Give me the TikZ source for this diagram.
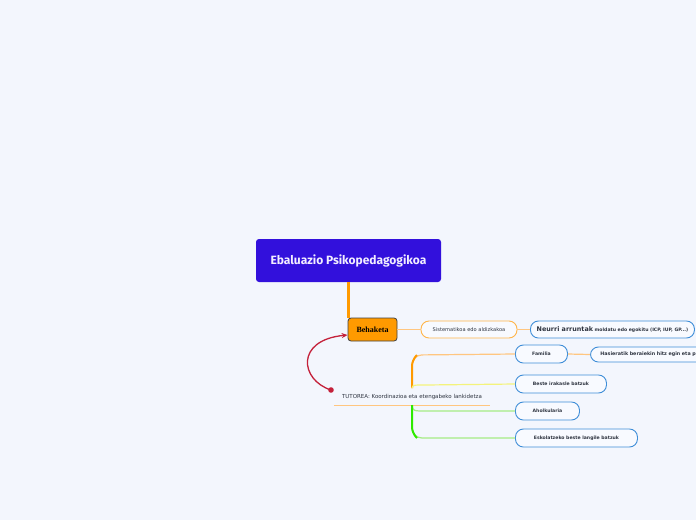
\documentclass[tikz,border=0pt]{standalone}
\usepackage{fontspec}
\setmainfont{DejaVu Sans}
\newfontfamily\titlefont{Fira Sans}
\newfontfamily\behfont{Liberation Serif}
\usetikzlibrary{arrows.meta}
\definecolor{bg}{HTML}{F3F6FD}
\definecolor{mainfill}{HTML}{3210DC}
\definecolor{maintext}{HTML}{F2EEFF}
\definecolor{strongorange}{HTML}{FF9A00}
\definecolor{lightorange}{HTML}{FFC680}
\definecolor{pillorange}{HTML}{FFB54A}
\definecolor{pillblue}{HTML}{3F8ED8}
\definecolor{pillfill}{HTML}{F8FAFF}
\definecolor{lightyellow}{HTML}{F3F37C}
\definecolor{stronggreen}{HTML}{2EEA00}
\definecolor{lightgreen}{HTML}{A6EC84}
\definecolor{redlink}{HTML}{C4213A}
\definecolor{darktext}{HTML}{2E3440}
\tikzset{
  mainbox/.style={fill=mainfill, rounded corners=3pt, minimum width=185pt, minimum height=43pt,
    text=maintext, font=\titlefont\bfseries\fontsize{12}{14}\selectfont, inner sep=0pt},
  behbox/.style={fill=strongorange, draw=black!75, line width=0.8pt, rounded corners=3pt,
    minimum width=49pt, minimum height=23pt, inner sep=0pt, font=\behfont\bfseries\fontsize{8}{9}\selectfont},
  pill/.style={draw=pillblue, fill=pillfill, line width=0.9pt, rounded corners=8pt,
    minimum height=18pt, inner sep=0pt, text=darktext, font=\bfseries\fontsize{4.6}{5}\selectfont},
  sistpill/.style={pill, draw=pillorange, minimum height=17pt, font=\fontsize{5.1}{6}\selectfont},
  thinlink/.style={lightorange, line width=1.2pt},
}
\begin{document}
\begin{tikzpicture}[x=1pt,y=-1pt]
\fill[bg] (0,0) rectangle (696,520);
\useasboundingbox (0,0) rectangle (696,520);

% nodes
\node[mainbox] (main) at (348.5,260.5) {Ebaluazio Psikopedagogikoa};
\node[behbox] (beh) at (372.5,329.5) {Behaketa};
\node[sistpill, minimum width=96pt] (sist) at (469,329.5) {Sistematikoa edo aldizkakoa};
\node[pill, anchor=west, minimum width=164pt, minimum height=17pt] (neu) at (530,329.5)
  {{\fontsize{6.4}{8}\selectfont Neurri arruntak} {\fontsize{4.6}{6}\selectfont moldatu edo egokitu (ICP, IUP, GP...)}};
\node[pill, anchor=west, minimum height=18pt, minimum width=52pt] (fam) at (515,354) {Familia};
\node[pill, anchor=west, minimum height=15pt, text width=130pt, align=left, inner xsep=10pt,
  font=\bfseries\fontsize{4.8}{6}\selectfont] (has) at (590,354.5)
  {Hasieratik beraiekin hitz egin eta p};
\node[pill, anchor=west, minimum width=91pt] (bes) at (515,384) {Beste irakasle batzuk};
\node[pill, anchor=west, minimum width=64pt] (aho) at (515,411) {Aholkularia};
\node[pill, anchor=west, minimum width=122pt] (esk) at (515,438) {Eskolatzeko beste langile batzuk};
\node[minimum width=156pt, minimum height=16pt, inner sep=0pt, text=darktext,
  font=\fontsize{5.5}{6}\selectfont] (tut) at (412,397) {TUTOREA: Koordinazioa eta etengabeko lankidetza};
\coordinate (dot) at (331,390);
\coordinate (fork) at (412,396);

% connectors
\draw[strongorange, line width=3pt] ([xshift=1pt]beh.north west) -- ([xshift=1pt]beh.north west |- main.south);
\draw[thinlink] (beh.east) -- (sist.west);
\draw[thinlink] (sist.east) -- (neu.west);
\draw[thinlink] (fam.east) -- (has.west);
\draw[lightorange, line width=0.8pt] (tut.south west) -- (tut.south east);

% bracket
\draw[lightorange, line width=1.2pt, rounded corners=10pt] (fork |- 0,388) -- (fork |- 0,355) -- (fam.west);
\draw[strongorange, line width=2pt, rounded corners=6pt] (fork |- 0,388) -- (fork |- 0,360) -- ([xshift=5pt]fork |- 0,355);
\draw[lightyellow, line width=1.2pt] (fork |- 0,388) .. controls (413,385) .. (425,385) -- (bes.west);
\draw[lightgreen, line width=1.2pt] (fork |- 0,405) .. controls (413,411) .. (426,411) -- (aho.west);
\draw[lightgreen, line width=1.2pt, rounded corners=10pt] (fork |- 0,405) -- (fork |- 0,438) -- (esk.west);
\draw[stronggreen, line width=2pt, rounded corners=6pt] (fork |- 0,405) -- (fork |- 0,433) -- ([xshift=5pt]fork |- 0,438);

% red relationship
\fill[redlink] (dot) circle (2.8pt);
\draw[redlink, line width=1.3pt, -{Stealth[length=6pt,width=5pt]}] (dot) .. controls (300,380) and (295,340) .. ([yshift=-5.5pt]beh.west);
\end{tikzpicture}
\end{document}
